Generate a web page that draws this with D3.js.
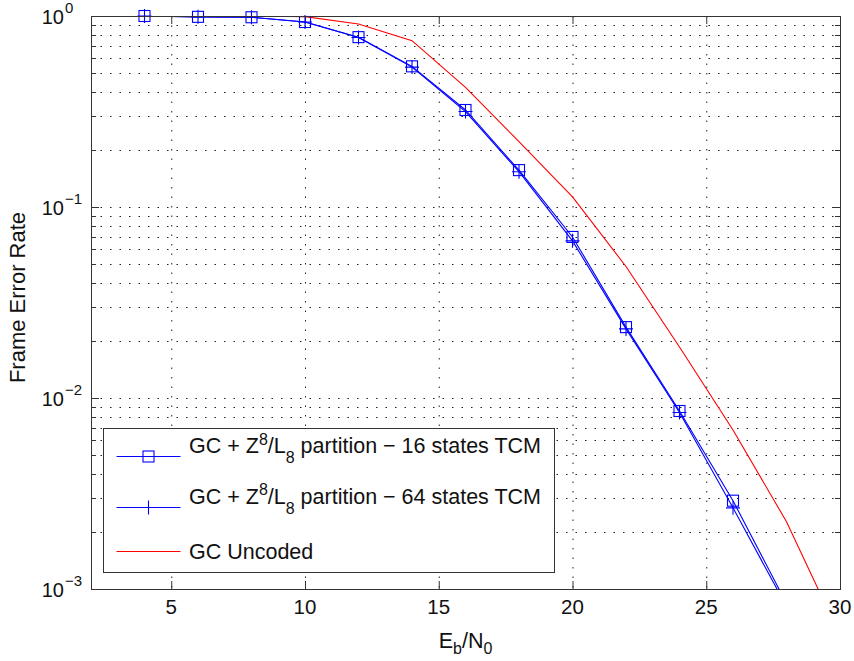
<!DOCTYPE html>
<html>
<head>
<meta charset="utf-8">
<script src="https://cdn.jsdelivr.net/npm/d3@7"></script>
<style>
  body { margin: 0; background: #fff; }
  svg { display: block; font-family: "Liberation Sans", Arial, sans-serif; }
</style>
</head>
<body>
<div id="chart"></div>
<script>
// Eb/N0 (dB) and frame error rate
const ebno16 = [4, 6, 8, 10, 12, 14, 16, 18, 20, 22, 24, 26, 28];
const fer16 = [1.0, 0.99, 0.985, 0.93, 0.775, 0.545, 0.322, 0.156, 0.0697, 0.0235, 0.00855, 0.0029, 0.00084];
const ebno64 = [4, 6, 8, 10, 12, 14, 16, 18, 20, 22, 24, 26, 28];
const fer64 = [1.0, 0.99, 0.985, 0.93, 0.772, 0.54, 0.316, 0.153, 0.0665, 0.0230, 0.0084, 0.00266, 0.00081];
const ebnoUnc = [2, 4, 6, 8, 10, 12, 14, 16, 18, 20, 22, 24, 26, 28, 30];
const ferUnc = [1.0, 1.0, 1.0, 1.0, 0.992, 0.908, 0.743, 0.423, 0.22, 0.113, 0.0488, 0.0185, 0.0068, 0.00225, 0.00057];

const xTicks = [5, 10, 15, 20, 25, 30];
const yTicks = [1, 0.1, 0.01, 0.001];
const yExp = ["0", "\u22121", "\u22122", "\u22123"];

const width = 854, height = 661,
    margin = {top: 16, right: 14, bottom: 72, left: 91};

const svg = d3.select("#chart").append("svg")
    .attr("width", width)
    .attr("height", height);

const x = d3.scaleLinear().domain([2, 30]).range([margin.left, width - margin.right]);
const y = d3.scaleLog().domain([0.001, 1]).range([height - margin.bottom, margin.top]);

// minor log values 2..9 per decade
const yMinor = [];
[0.001, 0.01, 0.1].forEach(d => { for (let k = 2; k <= 9; k++) yMinor.push(d * k); });

svg.append("clipPath").attr("id", "clip")
  .append("rect")
    .attr("x", x(2)).attr("y", y(1))
    .attr("width", x(30) - x(2)).attr("height", y(0.001) - y(1));

// grid
const grid = svg.append("g")
    .attr("stroke", "#222")
    .attr("stroke-width", 1)
    .attr("stroke-dasharray", "1.5,8");

grid.selectAll(".vg")
  .data(xTicks.filter(d => d < 30))
  .enter().append("line")
    .attr("x1", d => x(d) + 0.5).attr("x2", d => x(d) + 0.5)
    .attr("y1", y(1)).attr("y2", y(0.001));

grid.selectAll(".hg")
  .data(yTicks.slice(1, 3).concat(yMinor))
  .enter().append("line")
    .attr("x1", x(2)).attr("x2", x(30))
    .attr("y1", d => Math.round(y(d)) + 0.5).attr("y2", d => Math.round(y(d)) + 0.5);

// ticks inside the box, all four sides
const ticks = svg.append("g").attr("stroke", "#333").attr("stroke-width", 1);
xTicks.filter(d => d < 30).forEach(d => {
  ticks.append("line").attr("x1", x(d) + 0.5).attr("x2", x(d) + 0.5)
    .attr("y1", y(0.001)).attr("y2", y(0.001) - 8);
  ticks.append("line").attr("x1", x(d) + 0.5).attr("x2", x(d) + 0.5)
    .attr("y1", y(1)).attr("y2", y(1) + 8);
});
yTicks.concat(yMinor).forEach(d => {
  const len = yTicks.includes(d) ? 8 : 5;
  const yy = Math.round(y(d)) + 0.5;
  ticks.append("line").attr("x1", x(2)).attr("x2", x(2) + len).attr("y1", yy).attr("y2", yy);
  ticks.append("line").attr("x1", x(30)).attr("x2", x(30) - len).attr("y1", yy).attr("y2", yy);
});

// curves
const line = d3.line().x(d => x(d[0])).y(d => y(d[1]));
const plot = svg.append("g").attr("clip-path", "url(#clip)");

const s16 = d3.zip(ebno16, fer16), s64 = d3.zip(ebno64, fer64), sUnc = d3.zip(ebnoUnc, ferUnc);

plot.append("path").datum(s16).attr("d", line)
    .attr("fill", "none").attr("stroke", "#0000ff").attr("stroke-width", 1.1);
plot.append("path").datum(s64).attr("d", line)
    .attr("fill", "none").attr("stroke", "#0000ff").attr("stroke-width", 1.1);

const sq = 11, pl = 7;
svg.append("g").selectAll("rect")
  .data(s16.filter(d => d[1] >= 0.001))
  .enter().append("rect")
    .attr("x", d => x(d[0]) - sq / 2).attr("y", d => y(d[1]) - sq / 2)
    .attr("width", sq).attr("height", sq)
    .attr("fill", "none").attr("stroke", "#0000ff").attr("stroke-width", 1.1);

svg.append("g").selectAll("path")
  .data(s64.filter(d => d[1] >= 0.001))
  .enter().append("path")
    .attr("d", d => `M${x(d[0]) - pl},${y(d[1])}h${2 * pl}M${x(d[0])},${y(d[1]) - pl}v${2 * pl}`)
    .attr("fill", "none").attr("stroke", "#0000ff").attr("stroke-width", 1.1);

plot.append("path").datum(sUnc).attr("d", line)
    .attr("fill", "none").attr("stroke", "#ff0000").attr("stroke-width", 1.1);

// axes box
svg.append("rect")
    .attr("x", x(2) + 0.5).attr("y", y(1) + 0.5)
    .attr("width", x(30) - x(2)).attr("height", y(0.001) - y(1))
    .attr("fill", "none").attr("stroke", "#333").attr("stroke-width", 1);

// tick labels
svg.append("g").selectAll("text")
  .data(xTicks)
  .enter().append("text")
    .attr("x", d => x(d)).attr("y", y(0.001) + 25)
    .attr("text-anchor", "middle").attr("font-size", 20.5).attr("fill", "#111")
    .text(d => d);

const yl = svg.append("g").attr("fill", "#111");
yTicks.forEach((d, i) => {
  yl.append("text").attr("x", x(2) - 27).attr("y", y(d) + 7.5)
    .attr("text-anchor", "end").attr("font-size", 20).text("10");
  yl.append("text").attr("x", x(2) - 26).attr("y", y(d) - 3)
    .attr("font-size", 15).text(yExp[i]);
});

// axis titles
const xt = svg.append("text")
    .attr("x", (x(2) + x(30)) / 2).attr("y", 648)
    .attr("text-anchor", "middle").attr("font-size", 21.5).attr("fill", "#111");
xt.append("tspan").text("E");
xt.append("tspan").attr("dy", 6).attr("font-size", 16).text("b");
xt.append("tspan").attr("dy", -6).text("/N");
xt.append("tspan").attr("dy", 6).attr("font-size", 16).text("0");

svg.append("text")
    .attr("transform", `translate(25,${(y(1) + y(0.001)) / 2 - 5}) rotate(-90)`)
    .attr("text-anchor", "middle").attr("font-size", 22).attr("fill", "#111")
    .text("Frame Error Rate");

// legend
const lg = svg.append("g").attr("transform", `translate(${x(2) + 12.5},428.5)`);
lg.append("rect").attr("width", 451).attr("height", 144)
    .attr("fill", "#fff").attr("stroke", "#333").attr("stroke-width", 1);

const entries = [
  {states: "16", color: "#0000ff", marker: "square", ly: 28, ty: 24.5},
  {states: "64", color: "#0000ff", marker: "plus", ly: 79, ty: 75},
  {name: "GC Uncoded", color: "#ff0000", marker: null, ly: 123, ty: 130}
];
entries.forEach(e => {
  lg.append("line").attr("x1", 13).attr("x2", 77).attr("y1", e.ly).attr("y2", e.ly)
    .attr("stroke", e.color).attr("stroke-width", 1.1);
  if (e.marker === "square") {
    lg.append("rect").attr("x", 45 - sq / 2).attr("y", e.ly - sq / 2).attr("width", sq).attr("height", sq)
      .attr("fill", "none").attr("stroke", e.color).attr("stroke-width", 1.1);
  } else if (e.marker === "plus") {
    lg.append("path").attr("d", `M${45},${e.ly - pl}v${2 * pl}`)
      .attr("fill", "none").attr("stroke", e.color).attr("stroke-width", 1.1);
  }
  const t = lg.append("text").attr("x", 85.5).attr("y", e.ty).attr("font-size", 21.5).attr("fill", "#111");
  if (e.name) {
    t.text(e.name);
  } else {
    t.append("tspan").text("GC + Z");
    t.append("tspan").attr("dy", -8.5).attr("font-size", 16).text("8");
    t.append("tspan").attr("dy", 8.5).text("/L");
    t.append("tspan").attr("dy", 10).attr("font-size", 16).text("8");
    t.append("tspan").attr("dy", -10).text(" partition \u2212 " + e.states + " states TCM");
  }
});
</script>
</body>
</html>
